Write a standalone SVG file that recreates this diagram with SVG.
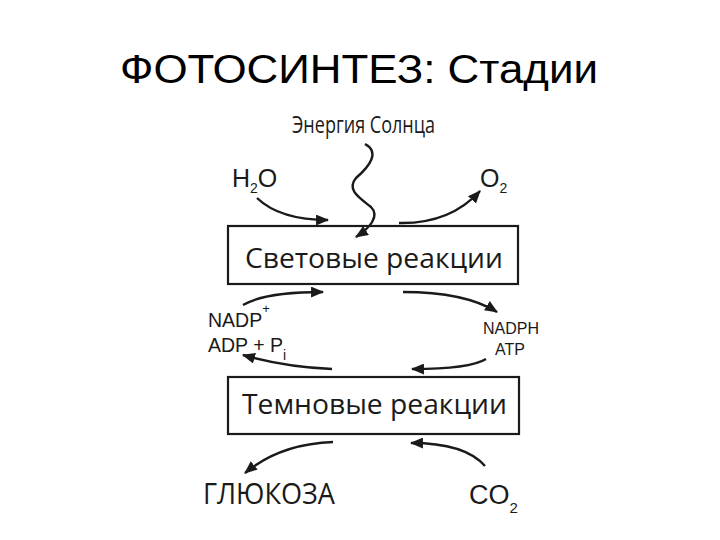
<svg xmlns="http://www.w3.org/2000/svg" width="720" height="540" viewBox="0 0 720 540">
  <style>
    .title { font-family: "Liberation Sans", Arial, sans-serif; font-size: 40px; fill: #000; }
    .box { fill: #fff; stroke: #1a1a1a; stroke-width: 2.2; }
    .boxtxt { font-family: "Open Sans", "DejaVu Sans", sans-serif; font-size: 27px; fill: #1a1a1a; }
    .lbl { font-family: "Liberation Sans", Arial, sans-serif; fill: #1a1a1a; }
    .hum { font-family: "Open Sans", "DejaVu Sans", sans-serif; fill: #1a1a1a; }
    .arr { fill: none; stroke: #1a1a1a; stroke-width: 2.4; marker-end: url(#ah); }
  </style>
  <defs>
    <marker id="ah" viewBox="0 0 12 10" refX="11" refY="5" markerUnits="userSpaceOnUse" markerWidth="13" markerHeight="11" orient="auto">
      <path d="M0,0 L12,5 L0,10 z" fill="#1a1a1a"/>
    </marker>
  </defs>
  <rect width="720" height="540" fill="#fff"/>
  <text class="title" x="120" y="83" textLength="478" lengthAdjust="spacingAndGlyphs">ФОТОСИНТЕЗ: Стадии</text>

  <g id="sun">
    <text class="hum" x="292" y="133" font-size="23" textLength="143" lengthAdjust="spacingAndGlyphs">Энергия Солнца</text>
  </g>
  <g id="h2o">
    <text class="lbl" x="232" y="187" font-size="25">H<tspan font-size="14" dy="6">2</tspan><tspan dy="-6">O</tspan></text>
  </g>
  <g id="o2">
    <text class="lbl" x="480" y="187" font-size="25">O<tspan font-size="14" dy="6">2</tspan></text>
  </g>
  <g id="light">
    <rect class="box" x="228" y="226" width="290" height="58"/>
    <text class="boxtxt" x="245" y="268" textLength="258" lengthAdjust="spacingAndGlyphs">Световые реакции</text>
  </g>
  <g id="nadp">
    <text class="lbl" x="208" y="327" font-size="19.5">NADP<tspan font-size="13" dy="-14">+</tspan></text>
    <text class="lbl" x="208" y="352" font-size="19.5">ADP + P<tspan font-size="14" dy="8">i</tspan></text>
  </g>
  <g id="nadph">
    <text class="lbl" x="511" y="334" font-size="16" text-anchor="middle">NADPH</text>
    <text class="lbl" x="510" y="355" font-size="16" text-anchor="middle">ATP</text>
  </g>
  <g id="dark">
    <rect class="box" x="228" y="377" width="291" height="57"/>
    <text class="boxtxt" x="242" y="414" textLength="265" lengthAdjust="spacingAndGlyphs">Темновые реакции</text>
  </g>
  <g id="glucose">
    <text class="hum" x="203" y="504" font-size="29" textLength="132" lengthAdjust="spacingAndGlyphs">ГЛЮКОЗА</text>
  </g>
  <g id="co2">
    <text class="lbl" x="469" y="504" font-size="27">CO<tspan font-size="15" dy="9">2</tspan></text>
  </g>

  <g id="connectors">
    <path class="arr" d="M365,144 C380,152 370,166 356,178 C346,190 360,198 371,207 C380,216 370,228 356,237"/>
    <path class="arr" d="M257,198 Q280,220 328,220"/>
    <path class="arr" d="M399,223 Q450,224 480,191"/>
    <path class="arr" d="M243,305 Q265,292 323,292"/>
    <path class="arr" d="M403,292 Q465,292 497,312"/>
    <path class="arr" d="M486,359 Q470,369 412,369"/>
    <path class="arr" d="M332,369 Q285,367 243,355"/>
    <path class="arr" d="M333,442 Q280,444 245,473"/>
    <path class="arr" d="M485,466 Q465,443 411,443"/>
  </g>
</svg>
